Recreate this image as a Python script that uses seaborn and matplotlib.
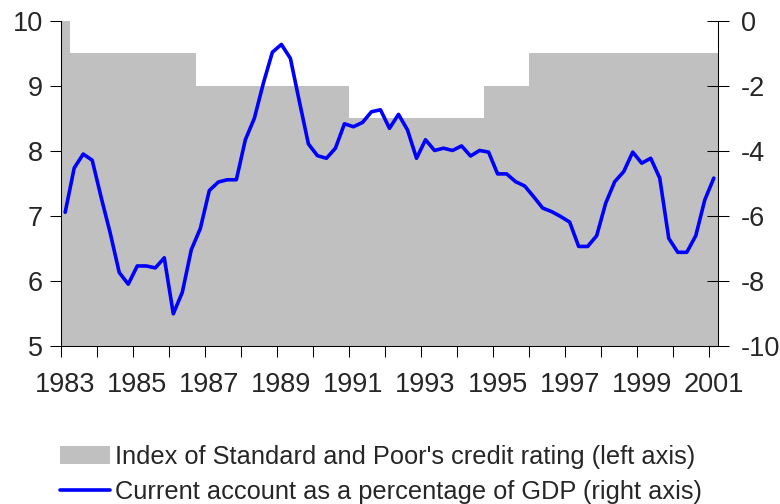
import numpy as np
import pandas as pd
import matplotlib
matplotlib.use('Agg')
import matplotlib.pyplot as plt
import seaborn as sns
from matplotlib.patches import Patch
from matplotlib.lines import Line2D
from matplotlib.ticker import FixedLocator

# ---------------- data ----------------
quarters = pd.period_range('1983Q1', '2001Q1', freq='Q')

# current account, % of GDP (right axis), one value per quarter
current_account = [
    -5.89, -4.53, -4.10, -4.29, -5.44, -6.53, -7.74, -8.10,
    -7.54, -7.54, -7.60, -7.29, -9.01, -8.35, -7.04, -6.39,
    -5.22, -4.96, -4.89, -4.89, -3.66, -3.00, -1.92, -0.97,
    -0.73, -1.16, -2.49, -3.79, -4.15, -4.23, -3.92, -3.17,
    -3.26, -3.13, -2.80, -2.74, -3.31, -2.88, -3.36, -4.23,
    -3.66, -3.99, -3.92, -3.99, -3.85, -4.16, -3.99, -4.04,
    -4.71, -4.71, -4.95, -5.08, -5.41, -5.76, -5.87, -6.02,
    -6.19, -6.94, -6.94, -6.61, -5.61, -4.95, -4.64, -4.04,
    -4.38, -4.23, -4.84, -6.69, -7.12, -7.12, -6.61, -5.51,
    -4.84,
]

# S&P credit rating index (left axis): quarter of each change and new level
rating_change_quarters = ['1983Q1', '1983Q2', '1986Q4', '1991Q1', '1994Q4', '1996Q1']
rating_levels = [10, 9.5, 9, 8.5, 9, 9.5]

year_labels = list(range(1983, 2002, 2))
left_ticks = [5, 6, 7, 8, 9, 10]
right_ticks = [-10, -8, -6, -4, -2, 0]

rating_label = "Index of Standard and Poor's credit rating (left axis)"
ca_label = "Current account as a percentage of GDP (right axis)"

# ---------------- prepare ----------------
df = pd.DataFrame({'quarter': quarters, 'current_account': current_account})
df['x'] = df['quarter'].dt.year + (df['quarter'].dt.quarter - 0.5) / 4
rating = pd.Series(rating_levels, index=pd.PeriodIndex(rating_change_quarters, freq='Q'))
df['rating'] = rating.reindex(quarters).ffill().values

gray = '#C0C0C0'
blue = '#0000FF'

sns.set_style('ticks')
plt.rcParams['font.family'] = ['Liberation Sans', 'DejaVu Sans']

fig, ax = plt.subplots(figsize=(7.8, 5.04), dpi=100)
fig.subplots_adjust(left=0.0778, right=0.9209, top=0.959, bottom=0.3135)

# gray step area: one block per quarter
edges = np.append(df['x'].values - 0.125, df['x'].values[-1] + 0.125)
heights = np.append(df['rating'].values, df['rating'].values[-1])
ax.fill_between(edges, heights, 0, step='post', color=gray, linewidth=0)

ax2 = ax.twinx()
sns.lineplot(data=df, x='x', y='current_account', ax=ax2, color=blue,
             linewidth=2.6, solid_joinstyle='round')

# ---------------- axes ----------------
ax.set_xlim(1983, 2001.25)
ax.set_ylim(5, 10)
ax2.set_ylim(-10, 0)
ax.set_xlabel('')
ax.set_ylabel('')
ax2.set_xlabel('')
ax2.set_ylabel('')

ax.set_yticks(left_ticks)
ax.set_yticklabels([str(v) for v in left_ticks])
ax2.set_yticks(right_ticks)
ax2.set_yticklabels([str(v) for v in right_ticks])

ax.xaxis.set_minor_locator(FixedLocator(range(1983, 2002)))
ax.set_xticks([y + 0.125 for y in year_labels])
ax.set_xticklabels([str(y) for y in year_labels])

ax.tick_params(axis='x', which='major', length=0, pad=19, labelsize=19.5)
ax.tick_params(axis='x', which='minor', direction='out', length=8, width=0.75, color='black')
ax.tick_params(axis='y', direction='out', length=8, width=0.75, pad=5,
               labelsize=19.5, color='black')
ax2.tick_params(axis='y', direction='inout', length=16, width=0.75, pad=8,
                labelsize=19.5, color='black')

for s in ['top', 'right']:
    ax.spines[s].set_visible(False)
for s in ['top', 'left', 'bottom']:
    ax2.spines[s].set_visible(False)
for s in ['left', 'bottom']:
    ax.spines[s].set_linewidth(0.75)
    ax.spines[s].set_color('black')
ax2.spines['right'].set_linewidth(0.75)
ax2.spines['right'].set_color('black')

# ---------------- legend ----------------
handles = [
    Patch(facecolor=gray, edgecolor='none', label=rating_label),
    Line2D([], [], color=blue, linewidth=2.6, label=ca_label),
]
fig.legend(handles=handles, loc='upper left', bbox_to_anchor=(60 / 780, 1 - 445 / 504),
           frameon=False, fontsize=18.3, handlelength=1.97, handleheight=0.7,
           handletextpad=0.2, labelspacing=0.44, borderpad=0, borderaxespad=0)

fig.savefig('out.png', dpi=100)
